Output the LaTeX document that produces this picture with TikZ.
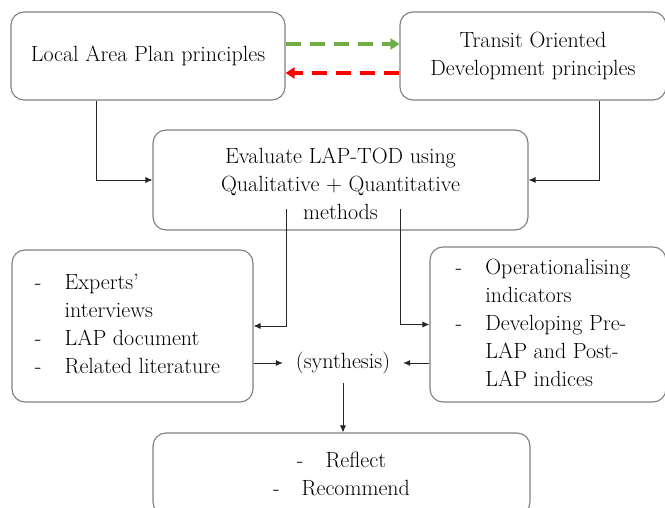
\documentclass[tikz,border=0pt]{standalone}
\usetikzlibrary{arrows.meta}
\definecolor{LTzelena}{HTML}{70AD47}
\definecolor{LTcrvena}{HTML}{FF0000}
\definecolor{LTokvir}{HTML}{7F7F7F}
\begin{document}
\begin{tikzpicture}[x=1pt,y=-1pt,font=\fontsize{22}{28}\selectfont,
 LTbox/.style={draw=LTokvir,line width=1.1pt,rounded corners=13pt,align=center,inner sep=0pt},
 LTveza/.style={draw=black!85,line width=.8pt,-{Latex[length=7pt,width=6pt]}},
 LTisprek/.style={line width=3.5pt,dash pattern=on 15pt off 9pt,-{Triangle[length=9pt,width=11pt]}}]
\useasboundingbox (0,0) rectangle (665,508);
\node[LTbox,minimum width=274pt,minimum height=88pt] (lap) at (148,56) {Local Area Plan principles};
\node[LTbox,minimum width=266pt,minimum height=88pt] (tod) at (533,56) {Transit Oriented\\Development principles};
\node[LTbox,minimum width=375pt,minimum height=100pt] (eval) at (340.5,180) {\rule{0pt}{23pt}Evaluate LAP-TOD using\\Qualitative + Quantitative\\methods};
\node[LTbox,minimum width=241pt,minimum height=152pt] (izv) at (132.5,326) {\begin{tabular}{@{}l@{\hspace{23pt}}l@{\hspace{10pt}}}
-&Experts'\\&interviews\\-&LAP document\\-&Related literature\end{tabular}};
\node[LTbox,minimum width=236pt,minimum height=155pt] (ind) at (548,324.5) {\begin{tabular}{@{}l@{\hspace{23pt}}l@{\hspace{10pt}}}
-&Operationalising\\&indicators\\-&Developing Pre-\\&LAP and Post-\\&LAP indices\end{tabular}};
\node[inner sep=0pt,minimum width=120pt,minimum height=40pt] (sint) at (343,363) {(synthesis)};
\node[LTbox,minimum width=377pt,minimum height=82pt] (prep) at (341.5,474) {-\hspace{22pt}Reflect\\-\hspace{22pt}Recommend};
\draw[LTisprek,LTzelena] ([yshift=12pt]lap.east) -- ([yshift=12pt]lap.east -| tod.west);
\draw[LTisprek,LTcrvena] ([yshift=-17pt]tod.west) -- ([yshift=-17pt]tod.west -| lap.east);
\draw[LTveza] ([xshift=-52pt]lap.south) |- (eval.west);
\draw[LTveza] ([xshift=66pt]tod.south) |- (eval.east);
\draw[LTveza] ([xshift=-54.5pt,yshift=22pt]eval.south) |- (izv.east);
\draw[LTveza] ([xshift=59.5pt,yshift=22pt]eval.south) |- (ind.west);
\draw[LTveza] (sint.west -| izv.east) -- (sint.west);
\draw[LTveza] (sint.east -| ind.west) -- (sint.east);
\draw[LTveza] (sint.south) -- (sint.south |- prep.north);
\end{tikzpicture}
\end{document}
